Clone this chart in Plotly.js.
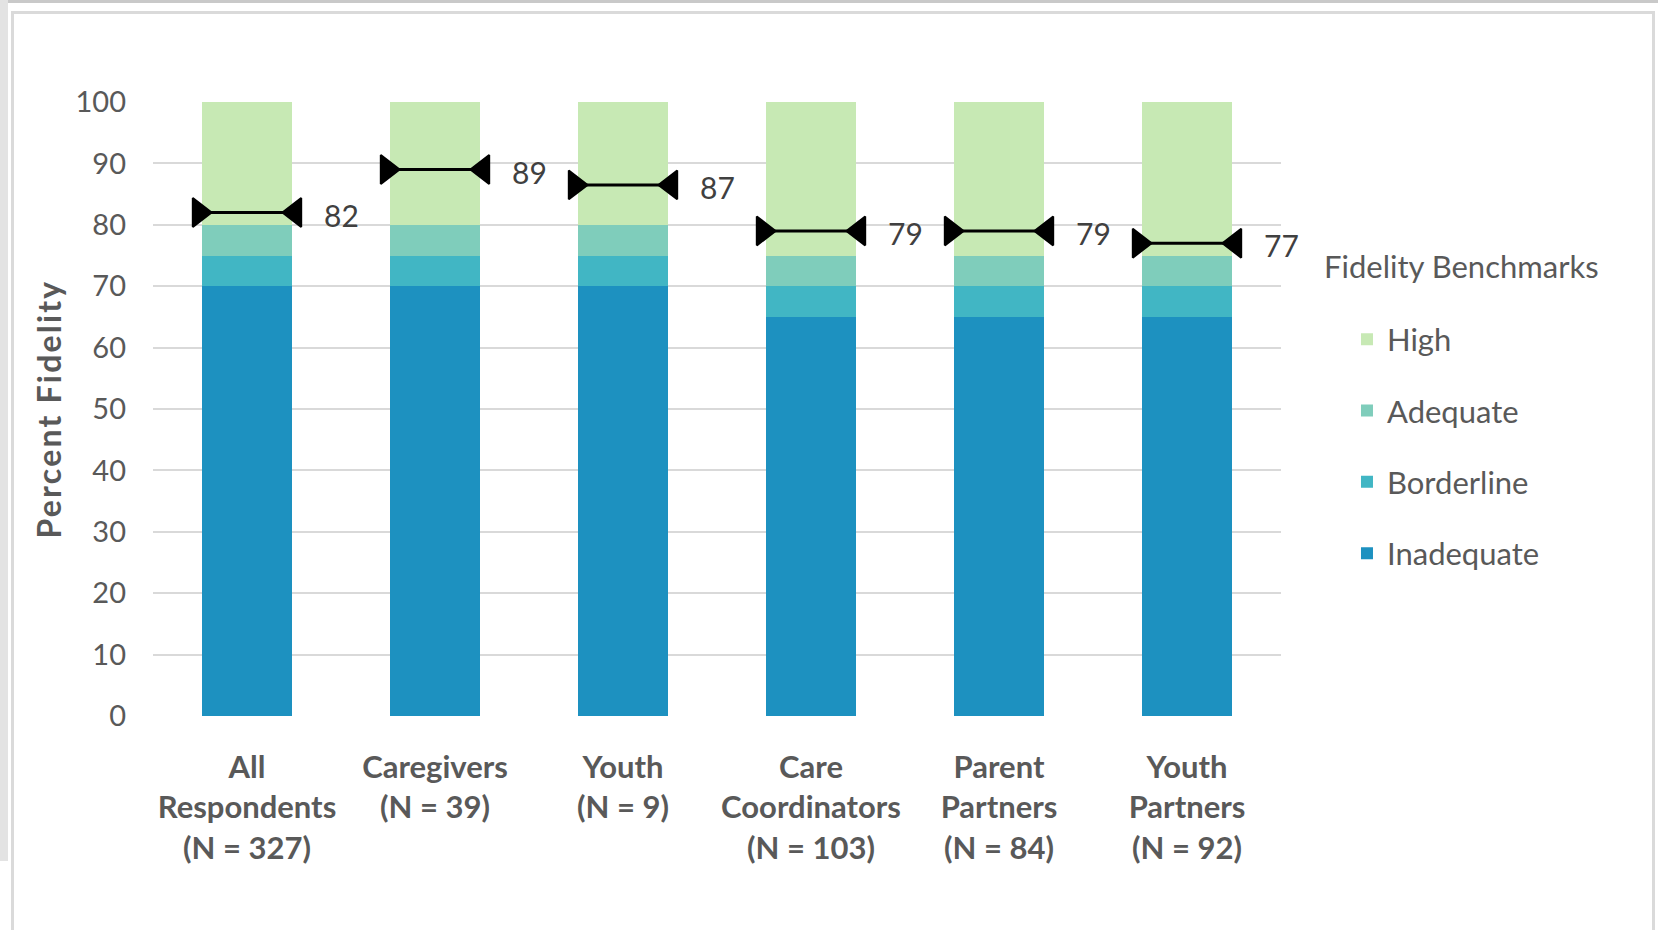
<!DOCTYPE html>
<html>
<head>
<meta charset="utf-8">
<script src="https://cdn.plot.ly/plotly-3.0.1.min.js"></script>
<style>
  html, body { margin: 0; padding: 0; background: #ffffff; }
  #wrap { position: relative; width: 1658px; height: 930px; overflow: hidden; background: #ffffff; }
  #chart { position: absolute; left: 0; top: 0; width: 1658px; height: 930px; }
  .frame { position: absolute; pointer-events: none; }
  #chart .g-ytitle text { letter-spacing: 2.2px; }
</style>
</head>
<body>
<div id="wrap">
  <div id="chart"></div>
  <div class="frame" style="left:0;top:0;width:1658px;height:3px;background:#c9c9c9;"></div>
  <div class="frame" style="left:0;top:0;width:8px;height:861px;background:#e3e3e3;"></div>
  <div class="frame" style="left:11px;top:11px;width:1638px;height:940px;border:3px solid #dadada;"></div>
</div>
<script>
// ---- data ----
const categories = [
  'All<br>Respondents<br>(N = 327)',
  'Caregivers<br>(N = 39)',
  'Youth<br>(N = 9)',
  'Care<br>Coordinators<br>(N = 103)',
  'Parent<br>Partners<br>(N = 84)',
  'Youth<br>Partners<br>(N = 92)'
];
const inadequate = [70, 70, 70, 65, 65, 65];
const borderline = [5, 5, 5, 5, 5, 5];
const adequate   = [5, 5, 5, 5, 5, 5];
const high       = [20, 20, 20, 25, 25, 25];
const meanFidelity = [82, 89, 86.5, 79, 79, 77];
const meanLabels   = ['82', '89', '87', '79', '79', '77'];
const yTicks = [0, 10, 20, 30, 40, 50, 60, 70, 80, 90, 100];
const legendTitle = 'Fidelity Benchmarks';

const colors = {
  High: '#c7e9b4',
  Adequate: '#7fcdbb',
  Borderline: '#41b6c4',
  Inadequate: '#1d91c0'
};
const legendRanks = { High: 1, Adequate: 2, Borderline: 3, Inadequate: 4 };

const FONT = 'Lato, "Open Sans", sans-serif';

function barTrace(name, vals) {
  return {
    type: 'bar', name: name, x: categories, y: vals,
    marker: { color: colors[name], line: { width: 0 } },
    legendgroup: name, legendrank: legendRanks[name], hoverinfo: 'name+y'
  };
}

// mean markers (caps + connecting line), drawn on an overlaid numeric x axis
const mx = [], my = [], sym = [];
categories.forEach((c, i) => {
  mx.push(i - 0.255, i + 0.255, null);
  my.push(meanFidelity[i], meanFidelity[i], null);
  sym.push('triangle-right', 'triangle-left', 'circle');
});

const labelAnnotations = meanLabels.map((t, i) => ({
  xref: 'x2', yref: 'y', x: i + 0.40, y: meanFidelity[i],
  xanchor: 'left', yanchor: 'middle', yshift: -2,
  text: t, showarrow: false,
  font: { family: FONT, size: 30, color: '#404040' }
}));

const traces = [
  barTrace('Inadequate', inadequate),
  barTrace('Borderline', borderline),
  barTrace('Adequate', adequate),
  barTrace('High', high),
  {
    type: 'scatter', mode: 'lines+markers', xaxis: 'x2', yaxis: 'y',
    x: mx, y: my,
    line: { color: '#000000', width: 3 },
    marker: { symbol: sym, size: 25, color: '#000000', line: { color: '#000000', width: 2 } },
    showlegend: false, connectgaps: false, hoverinfo: 'y', cliponaxis: false
  }
];

const layout = {
  width: 1658, height: 930,
  paper_bgcolor: 'rgba(0,0,0,0)', plot_bgcolor: 'rgba(0,0,0,0)',
  margin: { l: 153, r: 377, t: 102, b: 214, autoexpand: false },
  barmode: 'stack', bargap: 0.52,
  font: { family: FONT, color: '#595959' },
  xaxis: {
    type: 'category', range: [-0.5, 5.5], showgrid: false, zeroline: false, showline: false,
    ticks: '', tickfont: { family: FONT, size: 31, color: '#595959', weight: 'bold' },
    ticklabelstandoff: 30, fixedrange: true
  },
  xaxis2: {
    overlaying: 'x', range: [-0.5, 5.5], visible: false, fixedrange: true
  },
  yaxis: {
    range: [0, 100], tickvals: yTicks, ticktext: yTicks.map(String),
    showgrid: true, gridcolor: '#d9d9d9', gridwidth: 2, zeroline: false, showline: false,
    ticks: '', tickfont: { family: FONT, size: 29, color: '#595959' },
    ticklabelstandoff: 26,
    title: { text: 'Percent Fidelity', font: { family: FONT, size: 32, color: '#595959', weight: 'bold' }, standoff: 4 },
    fixedrange: true
  },
  showlegend: true,
  legend: {
    x: 1.0585, xanchor: 'left', y: 0.657, yanchor: 'top',
    traceorder: 'grouped', tracegroupgap: 28,
    font: { family: FONT, size: 31, color: '#595959' },
    bgcolor: 'rgba(0,0,0,0)', itemclick: false, itemdoubleclick: false
  },
  annotations: [{
    xref: 'paper', yref: 'paper', x: 1.0363, y: 0.733, xanchor: 'left', yanchor: 'middle',
    text: legendTitle, showarrow: false,
    font: { family: FONT, size: 31, color: '#595959' }
  }].concat(labelAnnotations)
};

Plotly.newPlot('chart', traces, layout, { displayModeBar: false });
</script>
</body>
</html>
